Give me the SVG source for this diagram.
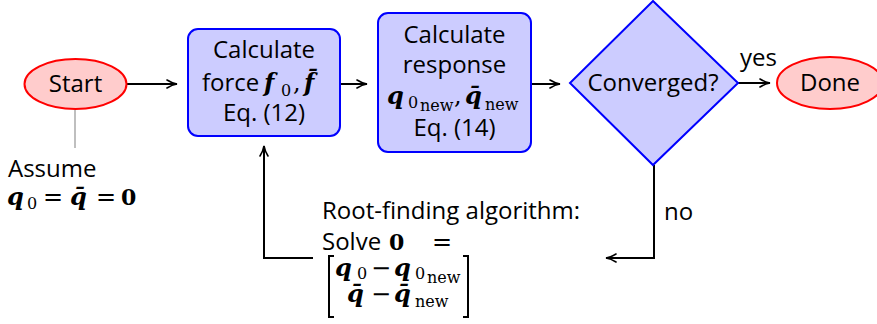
<svg xmlns="http://www.w3.org/2000/svg" width="877" height="324" viewBox="0 0 877 324">
  <style>
    .t { font-family: "Open Sans", "DejaVu Sans", sans-serif; font-size: 24px; fill: #000; }
    .m { font-family: "DejaVu Serif", "Liberation Serif", serif; font-size: 24px; font-weight: bold; font-style: italic; fill: #000; }
    .mb { font-family: "DejaVu Serif", "Liberation Serif", serif; font-size: 22px; font-weight: bold; font-style: normal; fill: #000; }
    .mr { font-family: "DejaVu Serif", "Liberation Serif", serif; font-size: 24px; font-weight: normal; font-style: normal; fill: #000; }
    .sub { font-family: "DejaVu Serif", "Liberation Serif", serif; font-size: 16px; font-weight: normal; font-style: normal; fill: #000; }
    .term { fill: #ffcccc; stroke: #ff0000; stroke-width: 2; }
    .proc { fill: #ccccff; stroke: #0000ff; stroke-width: 2; }
    .edge { fill: none; stroke: #000; stroke-width: 2; }
  </style>
  <defs>
    <marker id="arr" viewBox="0 0 12 10" refX="11" refY="5" markerWidth="12" markerHeight="10" markerUnits="userSpaceOnUse" orient="auto">
      <path d="M1,1 Q6,4.2 11,5 Q6,5.8 1,9" fill="none" stroke="#000" stroke-width="1.6" stroke-linecap="round"/>
    </marker>
  </defs>

  <!-- connectors -->
  <g id="edges">
    <line class="edge" x1="127" y1="84" x2="177" y2="84" marker-end="url(#arr)"/>
    <line class="edge" x1="340" y1="84" x2="367" y2="84" marker-end="url(#arr)"/>
    <line class="edge" x1="531" y1="84" x2="560" y2="84" marker-end="url(#arr)"/>
    <line class="edge" x1="738" y1="83" x2="770" y2="83" marker-end="url(#arr)"/>
    <polyline class="edge" points="654,165 654,258 606,258" marker-end="url(#arr)"/>
    <polyline class="edge" points="313,258 264,258 264,146" marker-end="url(#arr)"/>
    <line x1="75" y1="110" x2="75" y2="148" stroke="#aaaaaa" stroke-width="1.5"/>
    <text class="t" x="740" y="66">yes</text>
    <text class="t" x="664" y="220">no</text>
  </g>

  <!-- start terminal -->
  <g id="start">
    <ellipse class="term" cx="75.5" cy="84" rx="51" ry="25"/>
    <text class="t" x="75.5" y="92" text-anchor="middle">Start</text>
  </g>

  <!-- initial guess note -->
  <g id="assume">
    <text class="t" x="8" y="177">Assume</text>
    <text class="m" x="7" y="205">q</text>
    <text class="sub" x="27" y="209">0</text>
    <text class="mr" x="43" y="205">=</text>
    <text class="m" x="70" y="205">q̄</text>
    <text class="mr" x="96" y="205">=</text>
    <text class="mb" x="121" y="205">0</text>
  </g>

  <!-- force step -->
  <g id="force">
    <rect class="proc" x="188" y="29" width="152" height="107" rx="10"/>
    <text class="t" x="264" y="58" text-anchor="middle">Calculate</text>
    <text class="t" x="202" y="91">force</text>
    <text class="m" x="264" y="91">f</text>
    <text class="sub" x="281" y="96">0</text>
    <text class="mr" x="293" y="91">,</text>
    <text class="m" x="304" y="91">f̄</text>
    <text class="t" x="264" y="121" text-anchor="middle">Eq. (12)</text>
  </g>

  <!-- response step -->
  <g id="response">
    <rect class="proc" x="378" y="13" width="153" height="139" rx="10"/>
    <text class="t" x="454.5" y="43" text-anchor="middle">Calculate</text>
    <text class="t" x="454.5" y="73" text-anchor="middle">response</text>
    <text class="m" x="387" y="104">q</text>
    <text class="sub" x="408" y="108">0</text>
    <text class="sub" x="420" y="111">new</text>
    <text class="mr" x="454" y="104">,</text>
    <text class="m" x="465" y="104">q̄</text>
    <text class="sub" x="485" y="110">new</text>
    <text class="t" x="454.5" y="136" text-anchor="middle">Eq. (14)</text>
  </g>

  <!-- convergence test -->
  <g id="converged">
    <polygon class="proc" points="653,1 738,83 653,165 570,83"/>
    <text class="t" x="653" y="91" text-anchor="middle">Converged?</text>
  </g>

  <!-- end terminal -->
  <g id="done">
    <ellipse class="term" cx="830" cy="83" rx="53" ry="26"/>
    <text class="t" x="830" y="91" text-anchor="middle">Done</text>
  </g>

  <!-- root-finding note -->
  <g id="rootfinding">
    <text class="t" x="322" y="219">Root-finding algorithm:</text>
    <text class="t" x="322" y="250">Solve</text>
    <text class="mb" x="389" y="250">0</text>
    <text class="mr" x="432" y="250">=</text>
    <path class="edge" d="M334,256 H329 V317 H334 M463,256 H468 V317 H463" stroke-width="1.6"/>
    <text class="m" x="335" y="276">q</text>
    <text class="sub" x="357" y="279">0</text>
    <text class="mr" x="371" y="276">−</text>
    <text class="m" x="394" y="276">q</text>
    <text class="sub" x="415" y="279">0</text>
    <text class="sub" x="427" y="283">new</text>
    <text class="m" x="347" y="302">q̄</text>
    <text class="mr" x="371" y="302">−</text>
    <text class="m" x="394" y="302">q̄</text>
    <text class="sub" x="415" y="307">new</text>
  </g>
</svg>
